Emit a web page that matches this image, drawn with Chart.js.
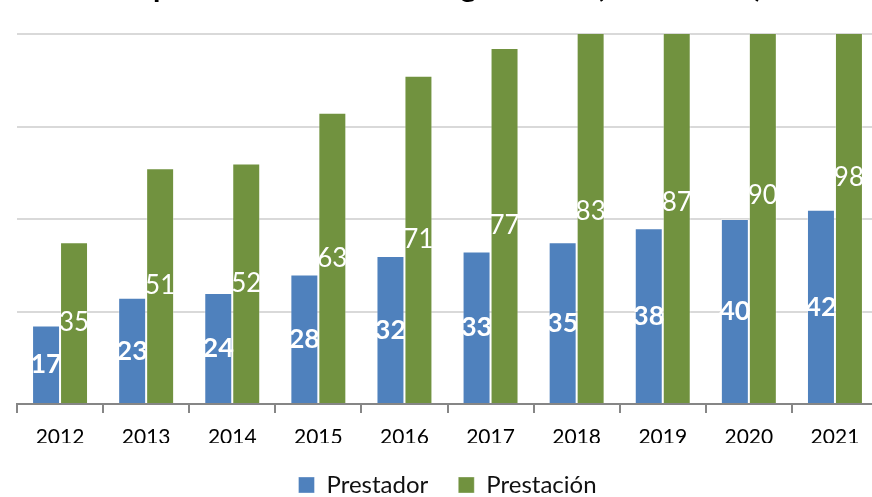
<!DOCTYPE html>
<html><head><meta charset="utf-8">
<script src="https://cdn.jsdelivr.net/npm/chart.js@4.4.1/dist/chart.umd.min.js"></script>
<style>
html,body{margin:0;padding:0;width:872px;height:497px;overflow:hidden;background:#fff;}
#wrap{position:absolute;left:0;top:-40px;width:880px;height:547px;}
</style></head><body>
<div id="wrap"><canvas id="c" width="880" height="547"></canvas></div>
<script>
const categories = ['2012','2013','2014','2015','2016','2017','2018','2019','2020','2021'];
const prestador = [17,23,24,28,32,33,35,38,40,42];
const prestacion = [35,51,52,63,71,77,83,87,90,98];
const yTicks = [0,20,40,60,80];
const seriesNames = ['Prestador','Prestación'];
const titleText = 'Aportes del Prestador según tarifa (2012-2021)';

const valueLabels = {
  id: 'valueLabels',
  afterDatasetsDraw(chart) {
    const ctx = chart.ctx, y = chart.scales.y;
    chart.data.datasets.forEach((ds, i) => {
      const meta = chart.getDatasetMeta(i);
      ctx.save();
      ctx.font = (i === 0 ? 'bold 27px' : '26px') + ' Lato';
      ctx.fillStyle = '#ffffff';
      ctx.textAlign = 'center';
      ctx.textBaseline = 'middle';
      meta.data.forEach((bar, j) => {
        const v = ds.data[j];
        ctx.fillText(String(v), bar.x, y.getPixelForValue(v / 2));
      });
      ctx.restore();
    });
  }
};

new Chart(document.getElementById('c'), {
  type: 'bar',
  data: {
    labels: categories,
    datasets: [
      { label: seriesNames[0], data: prestador, backgroundColor: '#4F81BD', borderColor: 'rgba(255,255,255,0.35)', borderWidth: 1 },
      { label: seriesNames[1], data: prestacion, backgroundColor: '#71923F', borderColor: 'rgba(255,255,255,0.35)', borderWidth: 1 }
    ]
  },
  options: {
    responsive: false,
    animation: false,
    devicePixelRatio: 1,
    categoryPercentage: 0.65,
    barPercentage: 1,
    layout: { padding: { left: 17, right: 2, top: 0, bottom: 0 } },
    plugins: {
      title: {
        display: true, text: titleText, color: '#000',
        font: { family: 'Lato', size: 30, weight: 'bold' },
        padding: { top: 9, bottom: 29 }
      },
      legend: {
        position: 'bottom',
        labels: { font: { family: 'Lato', size: 24 }, color: '#111', boxWidth: 16, boxHeight: 16, padding: 30 }
      },
      tooltip: { enabled: false }
    },
    scales: {
      x: {
        grid: { offset: true, drawOnChartArea: false, tickLength: 9, color: '#868686', lineWidth: 2 },
        border: { color: '#868686', width: 2 },
        ticks: { font: { family: 'Lato', size: 21 }, color: '#000', padding: 12, maxRotation: 0 },
        afterFit(s) { s.height = 39; }
      },
      y: {
        min: 0, max: 80,
        afterBuildTicks(s) { s.ticks = yTicks.map(v => ({ value: v })); },
        ticks: { display: false },
        grid: { color: '#d9d9d9', lineWidth: 2, drawTicks: false },
        border: { display: false },
        afterFit(s) { s.width = 0; }
      }
    }
  },
  plugins: [valueLabels]
});
</script>
</body></html>
